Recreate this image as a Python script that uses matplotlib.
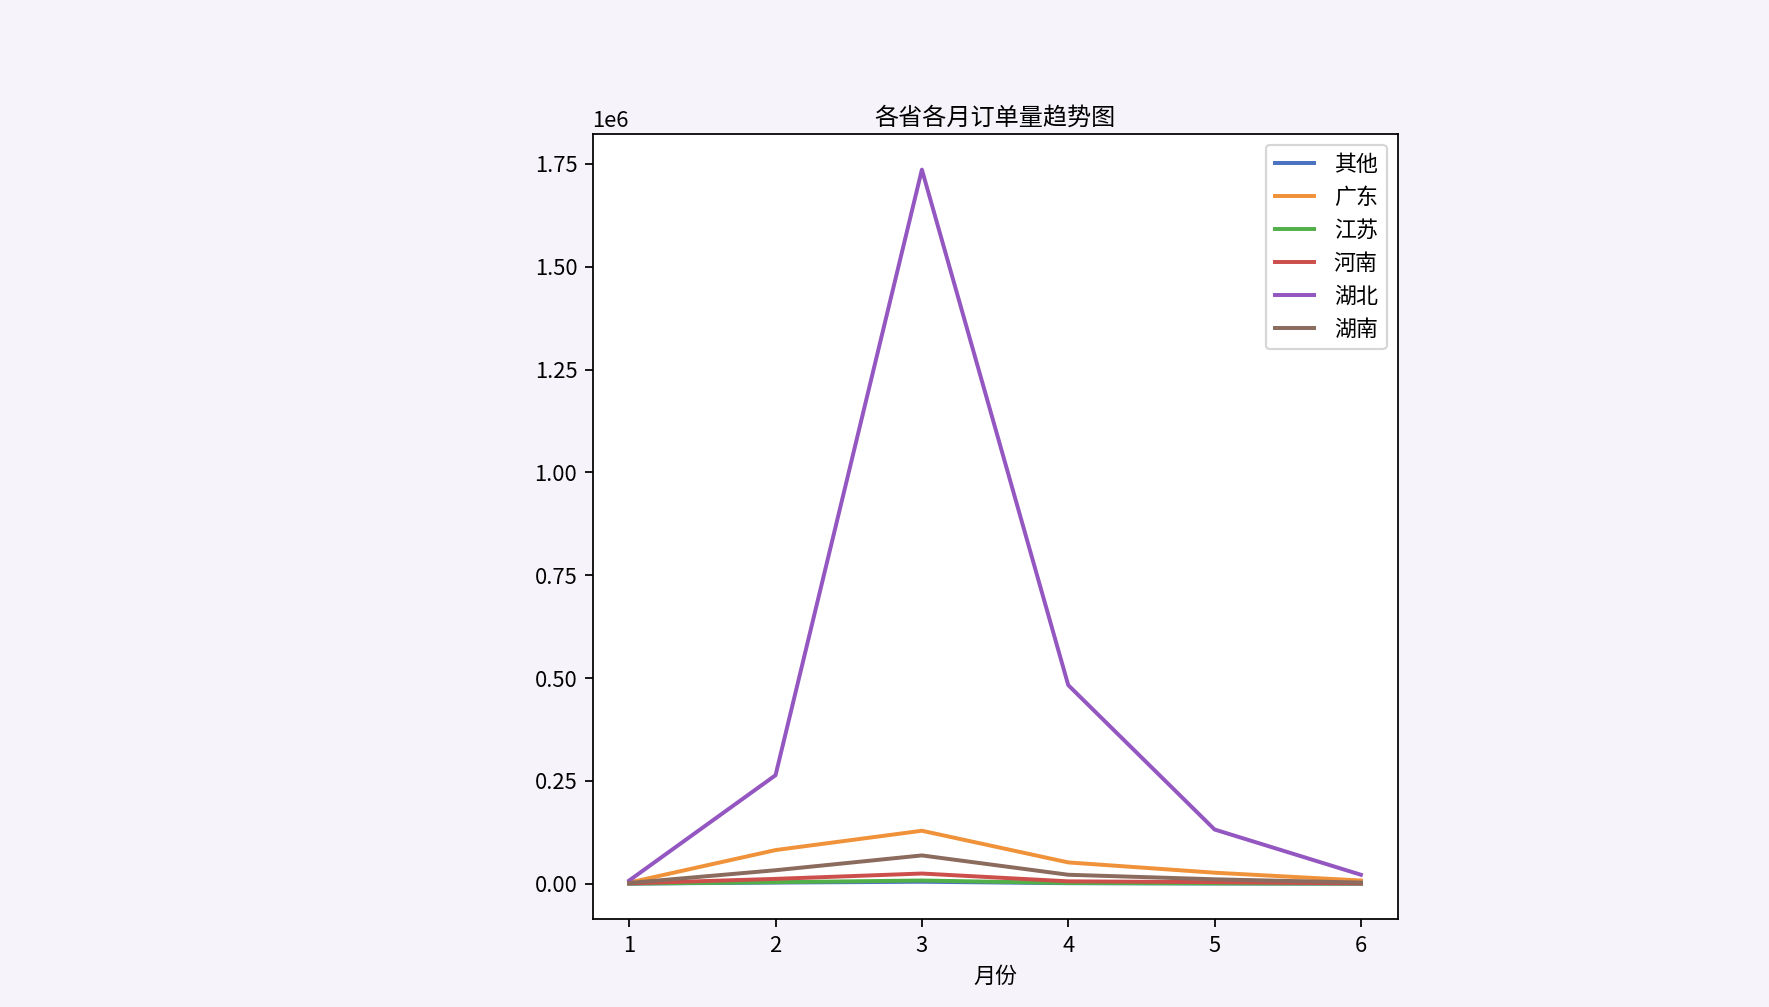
import numpy as np
import matplotlib
matplotlib.use("Agg")
import matplotlib.pyplot as plt

plt.rcParams['font.family'] = ['Noto Sans CJK SC', 'DejaVu Sans']
plt.rcParams['axes.unicode_minus'] = False

months = [1, 2, 3, 4, 5, 6]
provinces = ['其他', '广东', '江苏', '河南', '湖北', '湖南']

# monthly order counts per province
qita = [500, 3000, 5000, 1500, 800, 300]
guangdong = [3000, 82000, 129000, 52000, 27000, 8000]
jiangsu = [500, 4000, 8000, 2000, 1000, 500]
henan = [1000, 12000, 25000, 6000, 4000, 1000]
hubei = [8000, 264000, 1736000, 483000, 132000, 22000]
hunan = [2000, 33000, 69000, 22000, 11000, 3000]

series = [qita, guangdong, jiangsu, henan, hubei, hunan]
colors = ['#4a72c0', '#f0923a', '#52b04a', '#cc4f4c', '#9456c0', '#8a6b5e']

fig = plt.figure(figsize=(1769 / 158, 1007 / 158), dpi=158)
fig.patch.set_facecolor('#f6f4fa')
ax = fig.add_axes([0.335, 0.087, 0.455, 0.780])

for name, vals, c in zip(provinces, series, colors):
    ax.plot(months, vals, color=c, linewidth=1.8, label=name)

ax.set_title('各省各月订单量趋势图', fontsize=11, pad=4)
ax.set_xlabel('月份')
ax.set_xticks(months)
ax.legend(loc='upper right', handlelength=1.8, handletextpad=0.9)

fig.savefig('out.png', dpi=158, facecolor=fig.get_facecolor())
